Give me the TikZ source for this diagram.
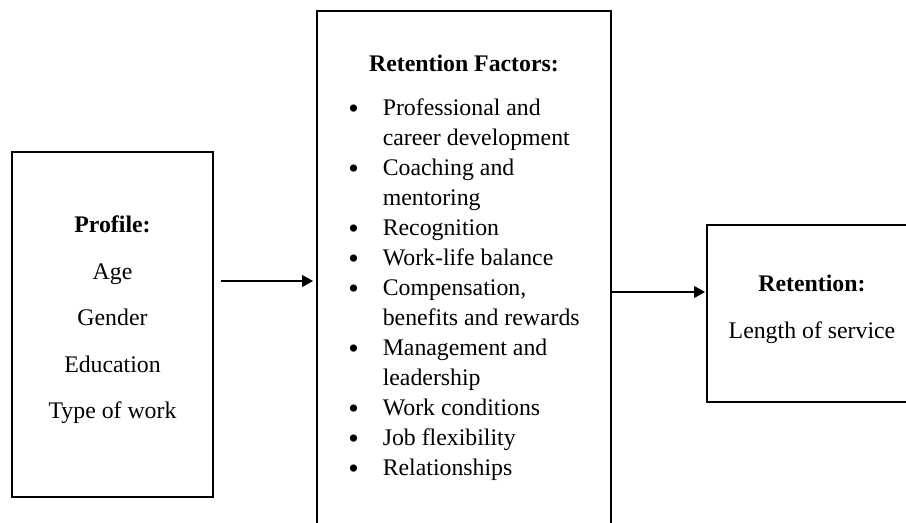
\documentclass[tikz,border=0pt]{standalone}
\usepackage{fontspec}
\setmainfont{Liberation Serif}
\usetikzlibrary{arrows.meta}

\tikzstyle{block} = [draw, rectangle, line width=1pt, inner sep=0pt]
\tikzstyle{profile-block} = [block, minimum width=100.5pt, minimum height=172.5pt, font=\fontsize{11.9}{23.25}\selectfont]
\tikzstyle{factors-block} = [block, minimum width=147pt, minimum height=256.5pt, font=\fontsize{11.9}{15}\selectfont]
\tikzstyle{retention-block} = [block, minimum width=105pt, minimum height=88.5pt, font=\fontsize{11.9}{23.5}\selectfont]

\newcommand{\itembullet}{\raisebox{-1.6pt}{\fontsize{15}{15}\selectfont\textbullet}}

\begin{document}
\begin{tikzpicture}[x=0.5pt, y=-0.5pt]

	\useasboundingbox (0,0) rectangle (906,523);
	\clip (0,0) rectangle (906,523);

	\node [profile-block] (Profile) at (112.5,324.5) {\begin{tabular}{@{}c@{}}
		\textbf{Profile:}\\ Age\\ Gender\\ Education\\ Type of work\\[8pt]
	\end{tabular}};

	\node [factors-block] (Factors) at (464,267.5) {\begin{tabular}{@{}c@{\hspace{12pt}}l@{}}
		\multicolumn{2}{c}{\textbf{Retention Factors:}}\\[7pt]
		\itembullet & Professional and\\
		            & career development\\
		\itembullet & Coaching and\\
		            & mentoring\\
		\itembullet & Recognition\\
		\itembullet & Work-life balance\\
		\itembullet & Compensation,\\
		            & benefits and rewards\\
		\itembullet & Management and\\
		            & leadership\\
		\itembullet & Work conditions\\
		\itembullet & Job flexibility\\
		\itembullet & Relationships
	\end{tabular}};

	\node [retention-block] (Retention) at (812,313.5) {\begin{tabular}{@{}c@{}}
		\textbf{Retention:}\\ Length of service\\[8pt]
	\end{tabular}};

	\draw [line width=0.6pt] [-{Triangle[length=5.5pt,width=6pt]}] ([xshift=3.5pt,yshift=21.75pt]Profile.east) -- ([xshift=-1.5pt,yshift=-6.75pt]Factors.west);
	\draw [line width=0.6pt] [-{Triangle[length=5.5pt,width=6pt]}] ([yshift=-12.25pt]Factors.east) -- ([xshift=-0.5pt,yshift=10.75pt]Retention.west);

\end{tikzpicture}
\end{document}
